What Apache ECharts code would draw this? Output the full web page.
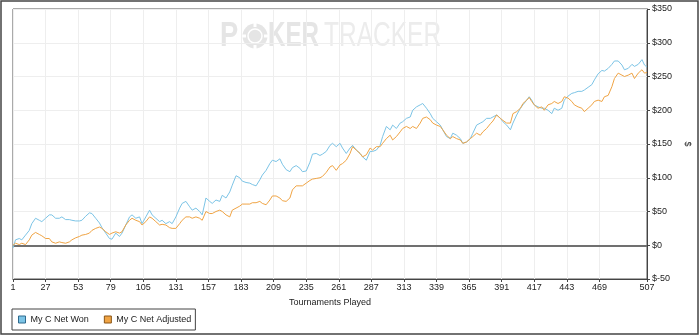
<!DOCTYPE html>
<html><head><meta charset="utf-8">
<script src="https://cdn.jsdelivr.net/npm/echarts@6/dist/echarts.min.js"></script>
<style>html,body{margin:0;padding:0;background:#fff}#c{width:700px;height:336px}</style>
</head><body><div id="c"></div>
<script>
const tournaments = [1,3,6,8,11,14,16,19,22,24,
27,30,32,35,38,40,43,46,48,51,
54,56,59,62,64,67,70,72,75,78,
80,83,86,88,91,94,96,99,102,104,
107,110,112,115,118,120,123,126,128,131,
134,136,139,142,144,147,150,152,155,158,
160,163,166,168,171,174,176,179,182,184,
187,190,192,195,198,200,203,206,208,211,
214,216,219,222,224,227,230,232,235,238,
240,243,246,248,251,254,256,259,262,264,
267,270,272,275,278,280,283,286,288,291,
294,296,299,302,304,307,310,312,315,318,
320,323,326,328,331,334,336,339,342,344,
347,350,352,355,358,360,363,366,368,371,
374,376,379,382,384,387,390,392,395,398,
400,403,406,408,411,413,415,417,420,423,
425,428,431,433,436,439,441,444,447,449,
452,455,457,460,463,465,468,471,473,476,
479,481,484,487,489,492,495,497,500,503,
505,507];
const netWon = [-4,8,10,8,15,22,32,40,37,35,
40,45,45,40,40,42,38,38,37,36,
36,37,43,48,47,40,33,26,18,10,
9,18,13,18,30,42,45,40,42,32,
42,52,45,40,35,37,32,35,32,42,
55,62,65,57,52,55,50,45,70,65,
62,67,65,74,70,79,89,103,100,95,
93,92,90,88,97,104,111,121,126,124,
128,120,112,109,115,118,114,109,110,123,
135,136,133,135,139,148,151,146,151,144,
136,144,148,141,136,131,126,139,139,141,
148,161,176,171,178,173,181,183,188,190,
200,205,208,210,203,195,188,183,178,171,
161,158,166,163,158,151,153,158,166,178,
181,183,188,188,190,193,188,183,178,171,
181,193,203,208,215,220,215,208,205,203,
203,200,195,203,200,203,215,221,225,226,
228,228,230,234,238,245,254,259,258,262,
268,273,273,267,260,262,268,265,268,275,
267,264];
const netAdjusted = [0,3,1,3,1,8,15,19,16,14,
10,10,5,3,5,4,3,5,8,11,
13,15,16,18,22,25,27,25,20,16,
18,20,18,20,30,37,40,37,35,30,
35,42,40,35,30,31,30,26,25,25,
32,37,42,42,40,42,40,37,50,47,
47,50,52,50,45,42,52,55,58,61,
61,61,63,63,65,62,60,67,73,73,
70,66,65,70,82,88,88,88,92,96,
98,99,100,102,108,116,118,111,119,121,
126,136,146,141,136,131,134,144,141,146,
146,151,158,163,156,161,168,173,176,173,
176,173,181,188,190,186,181,178,176,171,
163,158,161,158,156,151,153,158,161,166,
163,168,173,180,184,193,188,185,181,181,
195,198,203,210,215,219,213,208,203,205,
200,208,210,213,210,213,220,218,213,208,
205,203,198,203,208,213,215,213,220,222,
235,247,255,252,250,252,255,247,255,260,
255,256];
const xTickLabels = [1,27,53,79,105,131,157,183,209,235,261,287,313,339,365,391,417,443,469,507];
const seriesNames = ['My C Net Won', 'My C Net Adjusted'];
const xAxisTitle = 'Tournaments Played';
const yAxisTitle = '$';

const FONT = '"Liberation Sans", Arial, sans-serif';
const BLUE = '#7cc4e6';
const ORANGE = '#f0a444';
const chart = echarts.init(document.getElementById('c'), null, {renderer: 'canvas'});
chart.setOption({
  animation: false,
  backgroundColor: '#fff',
  graphic: [
    {type: 'rect', z: 100, silent: true, shape: {x: 1, y: 1, width: 697, height: 333}, style: {fill: 'none', stroke: '#444', lineWidth: 1.5}},
    {type: 'group', z: 1, silent: true, children: [
      {type: 'text', x: 220, y: 36, scaleX: 0.78, style: {text: 'P', font: 'bold 35px "Liberation Sans", Arial', fill: '#e5e5e5', verticalAlign: 'middle'}},
      {type: 'circle', shape: {cx: 255, cy: 36, r: 12.5}, style: {fill: '#e5e5e5'}},
      {type: 'circle', shape: {cx: 255, cy: 36, r: 7}, style: {fill: 'none', stroke: '#fff', lineWidth: 1.5}},
      {type: 'rect', shape: {x: 253.5, y: 23, width: 3, height: 4}, style: {fill: '#fff'}},
      {type: 'rect', shape: {x: 253.5, y: 45, width: 3, height: 4}, style: {fill: '#fff'}},
      {type: 'rect', shape: {x: 242, y: 34.5, width: 4, height: 3}, style: {fill: '#fff'}},
      {type: 'rect', shape: {x: 264, y: 34.5, width: 4, height: 3}, style: {fill: '#fff'}},
      {type: 'text', x: 268, y: 36, scaleX: 0.69, style: {text: 'KER', font: 'bold 35px "Liberation Sans", Arial', fill: '#e5e5e5', verticalAlign: 'middle'}},
      {type: 'text', x: 324, y: 36, scaleX: 0.70, style: {text: 'TRACKER', font: '35px "Liberation Sans", Arial', fill: '#ececec', verticalAlign: 'middle'}}
    ]}
  ],
  grid: {left: 13, right: 53, top: 9, bottom: 57, show: true, borderColor: '#555', borderWidth: 1},
  xAxis: {
    type: 'value', min: 1, max: 507, interval: 26,
    name: xAxisTitle, nameLocation: 'middle', nameGap: 19,
    nameTextStyle: {fontFamily: FONT, fontSize: 9, color: '#222'},
    axisLine: {show: true, onZero: false, lineStyle: {color: '#444', width: 1}},
    axisTick: {show: true, length: 3, lineStyle: {color: '#444'}, customValues: xTickLabels},
    axisLabel: {customValues: xTickLabels, fontFamily: FONT, fontSize: 9, color: '#222', margin: 4},
    splitLine: {show: true, lineStyle: {color: '#eeeeee', width: 1}}
  },
  yAxis: {
    type: 'value', position: 'right', min: -50, max: 350, interval: 50,
    name: yAxisTitle, nameLocation: 'middle', nameRotate: -90, nameGap: 34,
    nameTextStyle: {fontFamily: FONT, fontSize: 9, color: '#222'},
    axisLine: {show: true, lineStyle: {color: '#444', width: 1}},
    axisTick: {show: true, length: 3, lineStyle: {color: '#444'}},
    axisLabel: {formatter: v => '$' + v, fontFamily: FONT, fontSize: 9, color: '#222', margin: 5},
    splitLine: {show: true, lineStyle: {color: '#eeeeee', width: 1}}
  },
  legend: {
    left: 12, top: 309, orient: 'horizontal', icon: 'rect',
    itemWidth: 7, itemHeight: 7, itemGap: 15, padding: [6, 4, 6, 6],
    borderColor: '#444', borderWidth: 1,
    textStyle: {fontFamily: FONT, fontSize: 9, color: '#222'},
    data: [
      {name: seriesNames[0], itemStyle: {color: BLUE, borderColor: '#2e6a8e', borderWidth: 1}},
      {name: seriesNames[1], itemStyle: {color: ORANGE, borderColor: '#8a5516', borderWidth: 1}}
    ]
  },
  series: [
    {
      name: seriesNames[0], type: 'line', showSymbol: false, symbol: 'none',
      data: tournaments.map((t, i) => [t, netWon[i]]),
      lineStyle: {color: BLUE, width: 1}, itemStyle: {color: BLUE},
      markLine: {silent: true, symbol: 'none', label: {show: false}, z: 1,
        lineStyle: {color: '#707070', width: 2, type: 'solid'}, data: [{yAxis: 0}]}
    },
    {
      name: seriesNames[1], type: 'line', showSymbol: false, symbol: 'none',
      data: tournaments.map((t, i) => [t, netAdjusted[i]]),
      lineStyle: {color: ORANGE, width: 1}, itemStyle: {color: ORANGE}
    }
  ]
});
</script></body></html>
